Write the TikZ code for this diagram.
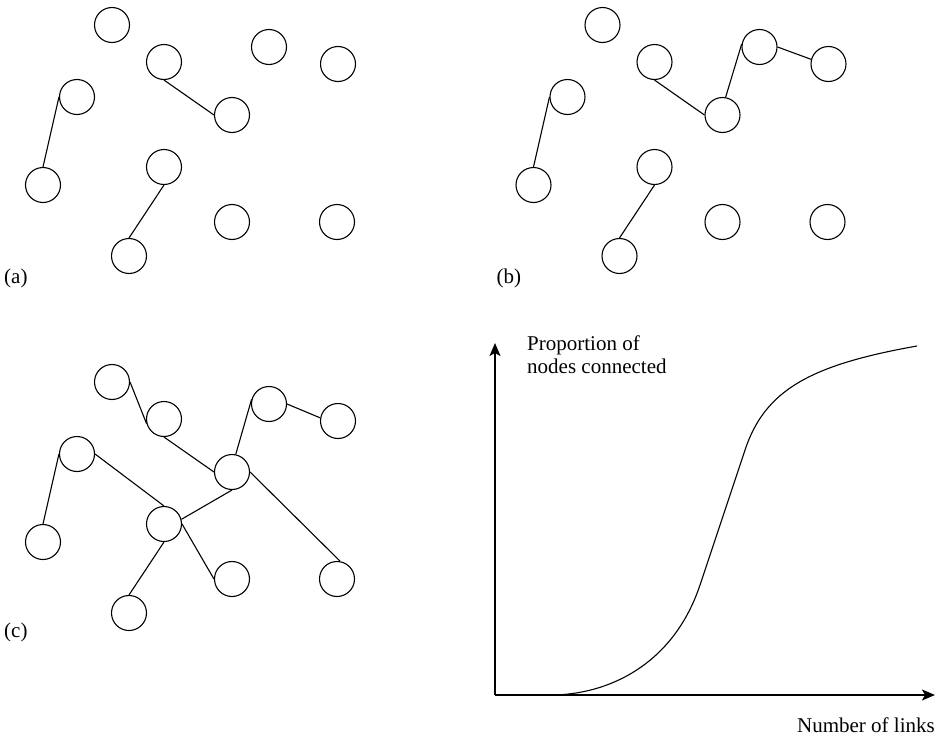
\documentclass[tikz,border=0pt]{standalone}
\usepackage{fontspec}
\setmainfont{Liberation Serif}
\usetikzlibrary{arrows.meta}
\begin{document}
\begin{tikzpicture}[x=1pt,y=-1pt,
  dot/.style={circle,draw,line width=1.1pt,minimum size=35pt,inner sep=0pt},
  link/.style={line width=1.1pt},
  axis/.style={line width=1.6pt,-{Stealth[length=13pt,width=11pt,inset=3pt]}},
  curve/.style={line width=1.1pt},
  lbl/.style={font=\fontsize{21}{24}\selectfont,inner sep=0pt}]
\useasboundingbox (0,0) rectangle (946,736);

\foreach \p/\dx/\dy in {a/0/0,b/490.5/0,c/0/357}{
  \begin{scope}[shift={(\dx,\dy)}]
   \node[dot] (\p1) at (112,25) {};
   \node[dot] (\p2) at (164,62) {};
   \node[dot] (\p3) at (269,47) {};
   \node[dot] (\p4) at (338,64) {};
   \node[dot] (\p5) at (77,97) {};
   \node[dot] (\p6) at (232,115) {};
   \node[dot] (\p7) at (43,185) {};
   \node[dot] (\p8) at (164,167) {};
   \node[dot] (\p9) at (232,222) {};
   \node[dot] (\p10) at (337,222) {};
   \node[dot] (\p11) at (129,256) {};
  \end{scope}
}

% panel (a)
\draw[link] (a5.west) -- (a7.north);
\draw[link] (a2.south) -- (a6.west);
\draw[link] (a8.south) -- (a11.north);
% panel (b)
\draw[link] (b5.west) -- (b7.north);
\draw[link] (b2.south) -- (b6.west);
\draw[link] (b6.80) -- (b3.170);
\draw[link] (b3.east) -- (b4.165);
\draw[link] (b8.south) -- (b11.north);
% panel (c)
\draw[link] (c1.east) -- (c2.195);
\draw[link] (c2.south) -- (c6.west);
\draw[link] (c6.78) -- (c3.165);
\draw[link] (c3.east) -- (c4.170);
\draw[link] (c5.east) -- (c8.north);
\draw[link] (c5.west) -- (c7.north);
\draw[link] (c6.south) -- (c8.15);
\draw[link] (c6.east) -- (c10.80);
\draw[link] (c8.east) -- (c9.west);
\draw[link] (c8.south) -- (c11.north);

% labels
\node[lbl,anchor=base west] (la) at (4,283) {(a)};
\node[lbl,anchor=base west] (lb) at (496.5,283) {(b)};
\node[lbl,anchor=base west] (lc) at (4,637) {(c)};

% chart
\coordinate (O) at (495,695);
\coordinate (ytip) at (495,343);
\coordinate (xtip) at (935,695);
\draw[axis] (O) -- (ytip);
\draw[axis] (O) -- (xtip);
\coordinate (cs) at (555,695);
\coordinate (cm) at (700,585);
\coordinate (cn) at (745,450);
\coordinate (ce) at (917,346);
\draw[curve] (cs) .. controls (615,693) and (675,660) .. (cm) -- (cn) .. controls (765,390) and (810,365) .. (ce);

\node[lbl,anchor=base west] (yl1) at (527,350) {Proportion of};
\node[lbl,anchor=base west] (yl2) at (527,373.5) {nodes connected};
\node[lbl,anchor=base east] (xl) at (935,732) {Number of links};
\end{tikzpicture}
\end{document}
